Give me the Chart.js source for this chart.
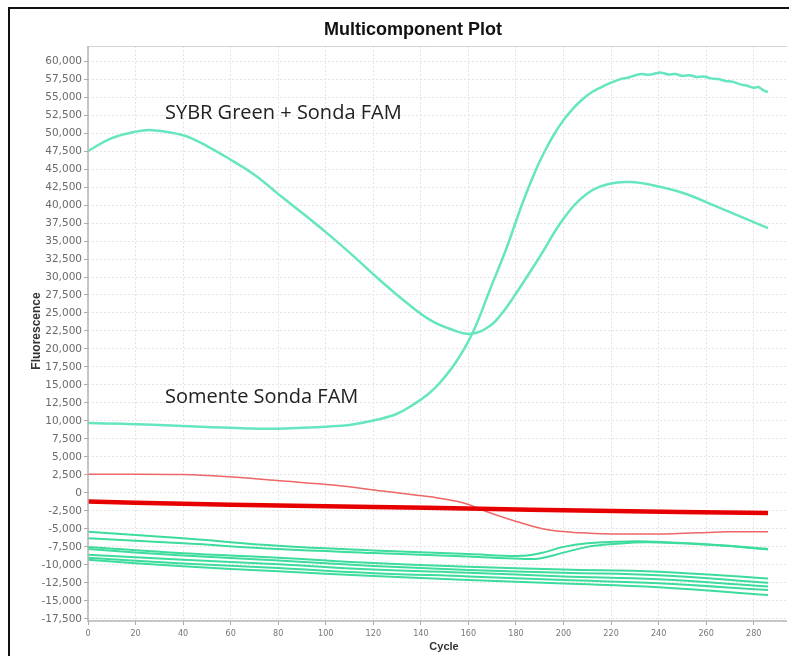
<!DOCTYPE html>
<html>
<head>
<meta charset="utf-8">
<script src="https://cdn.jsdelivr.net/npm/chart.js@4.4.1/dist/chart.umd.min.js"></script>
<style>
    html, body { margin: 0; padding: 0; background: #fff; overflow: hidden; }
    canvas { display: block; }
</style>
</head>
<body>
<canvas id="plot" width="789" height="656"></canvas>
<script>
    // axis ticks
    const cycleTicks = [0, 20, 40, 60, 80, 100, 120, 140, 160, 180, 200, 220, 240, 260, 280];
    const fluorTicks = [];
    for (let v = -17500; v <= 60000; v += 2500) fluorTicks.push(v);

    // SYBR Green + Sonda FAM
    const sybrCycles = [0, 10, 20, 27, 40, 50, 61, 70, 82, 92, 103, 112, 122, 133, 144, 153, 161, 169, 174, 179, 190, 200, 210, 220, 228, 237, 250, 265, 286];
    const sybrValues = [47500, 49300, 50200, 50400, 49700, 48200, 46100, 44200, 41000, 38400, 35400, 32800, 29800, 26700, 24000, 22700, 22100, 23200, 24900, 27200, 32800, 38100, 41600, 43000, 43200, 42800, 41700, 39700, 36800];

    // Somente Sonda FAM
    const famCycles = [0, 15, 30, 50, 65, 75, 90, 100, 110, 122, 130, 137, 143, 148, 155, 162, 169, 176, 183, 188, 192, 196, 200, 204, 208, 212, 216, 220, 224, 227, 230, 233, 236, 239, 241, 244, 247, 250, 253, 256, 259, 262, 265, 268, 271, 274, 277, 280, 282, 284, 286];
    const famValues = [9700, 9600, 9450, 9150, 9000, 8900, 9050, 9200, 9450, 10200, 11000, 12300, 13700, 15300, 18300, 22400, 28200, 34000, 40500, 44600, 47400, 49800, 51800, 53400, 54700, 55700, 56400, 57000, 57500, 57700, 58000, 58200, 58100, 58300, 58400, 58150, 58200, 57950, 58050, 57800, 57850, 57600, 57500, 57250, 57150, 56800, 56600, 56300, 56400, 55950, 55700];

    // red traces
    const redThinCycles = [0, 40, 61, 82, 103, 124, 144, 158, 169, 182, 193, 207, 221, 242, 256, 270, 286];
    const redThinValues = [2600, 2550, 2200, 1650, 1100, 250, -550, -1400, -2750, -4150, -5100, -5550, -5700, -5700, -5550, -5400, -5400];
    const redThickCycles = [0, 40, 80, 120, 165, 207, 249, 286];
    const redThickValues = [-1200, -1500, -1750, -1950, -2200, -2450, -2650, -2800];

    // green traces that rise after cycle 180
    const bumpCycles = [0, 40, 80, 120, 160, 182, 190, 200, 210, 221, 235, 263, 286];
    const bumpA = [-5400, -6300, -7350, -8000, -8500, -8750, -8400, -7500, -7000, -6800, -6750, -7200, -7800];
    const bumpB = [-6300, -7000, -7800, -8350, -8850, -9150, -9100, -8300, -7500, -7100, -6850, -7250, -7850];

    // flat green traces
    const lowCycles = [0, 40, 80, 120, 160, 200, 240, 286];
    const low1 = [-7500, -8400, -9000, -9750, -10250, -10650, -10950, -11900];
    const low2 = [-7800, -8700, -9400, -10150, -10700, -11100, -11450, -12500];
    const low3 = [-8600, -9300, -9900, -10650, -11100, -11600, -12000, -13000];
    const low4 = [-9000, -9800, -10450, -11150, -11600, -12100, -12550, -13500];
    const low5 = [-9300, -10200, -10900, -11550, -12100, -12600, -13100, -14200];

    const pts = (xs, ys) => xs.map((x, i) => ({ x: x, y: ys[i] }));

    const cyan = '#66e6c0';
    const green = '#3ddc9c';

    const line = (xs, ys, color, width) => ({
        data: pts(xs, ys),
        borderColor: color,
        borderWidth: width,
        pointRadius: 0,
        tension: 0.4,
        fill: false
    });

    const useTicks = values => scale => {
        scale.ticks = values.map(v => ({ value: v }));
    };

    const decor = {
        id: 'decor',
        afterDraw(chart){
            const { ctx, chartArea: a } = chart;
            ctx.save();

            // plot frame
            ctx.strokeStyle = '#d4d4d4';
            ctx.lineWidth = 1;
            ctx.beginPath();
            ctx.moveTo(a.left, a.top + 0.5);
            ctx.lineTo(a.right, a.top + 0.5);
            ctx.stroke();
            ctx.strokeStyle = '#b4b4b4';
            ctx.lineWidth = 1.5;
            ctx.beginPath();
            ctx.moveTo(a.left, a.top);
            ctx.lineTo(a.left, a.bottom);
            ctx.lineTo(a.right, a.bottom);
            ctx.stroke();

            // outer black frame
            ctx.fillStyle = '#111';
            ctx.fillRect(8, 7, 2, 660);
            ctx.fillRect(8, 7, 790, 2);

            ctx.textAlign = 'center';
            ctx.textBaseline = 'middle';
            ctx.fillStyle = '#111';
            ctx.font = 'bold 18px "Liberation Sans"';
            ctx.fillText('Multicomponent Plot', 413, 30);

            ctx.fillStyle = '#333';
            ctx.font = 'bold 11px "Liberation Sans"';
            ctx.fillText('Cycle', 444, 647);
            ctx.save();
            ctx.translate(37, 331);
            ctx.rotate(-Math.PI / 2);
            ctx.font = 'bold 12px "Liberation Sans"';
            ctx.fillText('Fluorescence', 0, 0);
            ctx.restore();

            ctx.textAlign = 'left';
            ctx.fillStyle = '#222';
            ctx.font = '20px "Open Sans"';
            ctx.fillText('SYBR Green + Sonda FAM', 165, 113);
            ctx.fillText('Somente Sonda FAM', 165, 397);

            ctx.restore();
        }
    };

    new Chart(document.getElementById('plot'), {
        type: 'line',
        data: {
            datasets: [
                line(famCycles, famValues, cyan, 2.5),
                line(sybrCycles, sybrValues, cyan, 2.5),
                line(redThickCycles, redThickValues, '#e60000', 4.5),
                line(redThinCycles, redThinValues, '#ee6666', 1.5),
                line(bumpCycles, bumpA, green, 2),
                line(bumpCycles, bumpB, green, 2),
                line(lowCycles, low1, green, 2),
                line(lowCycles, low2, green, 2),
                line(lowCycles, low3, green, 2),
                line(lowCycles, low4, green, 2),
                line(lowCycles, low5, green, 2)
            ]
        },
        options: {
            responsive: false,
            animation: false,
            layout: { padding: { top: 46, right: 2, left: 0, bottom: 0 } },
            plugins: {
                legend: { display: false },
                tooltip: { enabled: false }
            },
            scales: {
                x: {
                    type: 'linear',
                    min: 0,
                    max: 294,
                    afterBuildTicks: useTicks(cycleTicks),
                    afterFit(scale){ scale.height = 35; },
                    ticks: {
                        color: '#777',
                        font: { family: '"Liberation Sans Narrow", "DejaVu Sans Condensed", sans-serif', size: 9 },
                        padding: 3,
                        maxRotation: 0,
                        autoSkip: false
                    },
                    grid: { color: '#e4e4e4', tickColor: '#aaa', tickLength: 4 },
                    border: { display: false, dash: [2, 2] }
                },
                y: {
                    min: -17800,
                    max: 62100,
                    afterBuildTicks: useTicks(fluorTicks),
                    afterFit(scale){ scale.width = 88; },
                    ticks: {
                        color: '#6a6a6a',
                        font: { family: 'DejaVu Sans', size: 10.5 },
                        padding: 2,
                        autoSkip: false,
                        callback: v => v.toLocaleString('en-US')
                    },
                    grid: { color: '#e4e4e4', tickColor: '#aaa', tickLength: 4 },
                    border: { display: false, dash: [2, 2] }
                }
            }
        },
        plugins: [decor]
    });
</script>
</body>
</html>
